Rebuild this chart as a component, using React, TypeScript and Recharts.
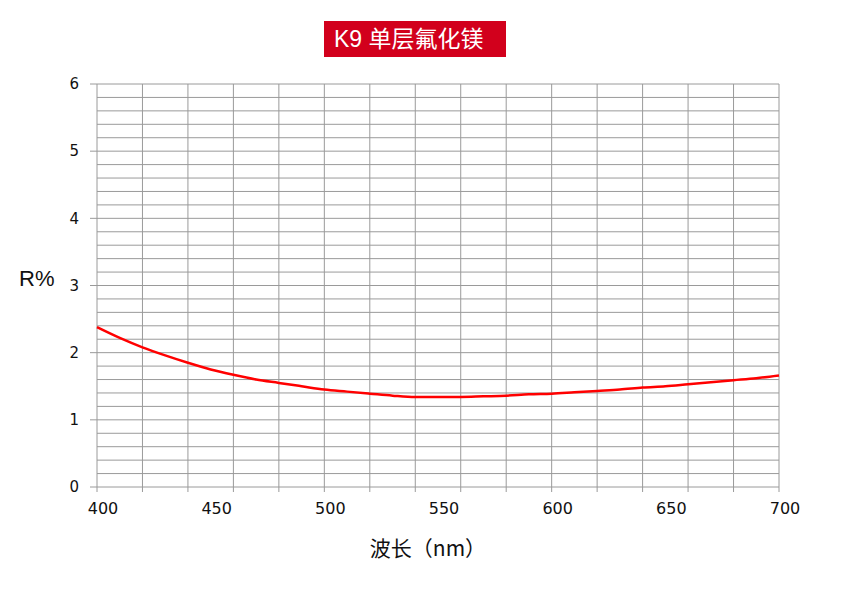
import React from "react";
import { LineChart, Line, XAxis, YAxis, CartesianGrid, ReferenceLine } from "recharts";

const wavelengths = [400, 410, 420, 430, 440, 450, 460, 470, 480, 490, 500, 510, 520, 530, 540, 550, 560, 570, 580, 590, 600, 610, 620, 630, 640, 650, 660, 670, 680, 690, 700];
const reflectance = [2.38, 2.22, 2.08, 1.96, 1.85, 1.75, 1.67, 1.6, 1.55, 1.5, 1.45, 1.42, 1.39, 1.36, 1.34, 1.34, 1.34, 1.35, 1.36, 1.38, 1.39, 1.41, 1.43, 1.45, 1.48, 1.5, 1.53, 1.56, 1.59, 1.62, 1.66];

const xLabelTicks = [400, 450, 500, 550, 600, 650, 700];
const xGridTicks = [400, 420, 440, 460, 480, 500, 520, 540, 560, 580, 600, 620, 640, 660, 680, 700];
const xAllTicks = [400, 420, 440, 450, 460, 480, 500, 520, 540, 550, 560, 580, 600, 620, 640, 650, 660, 680, 700];
const yLabelTicks = [0, 1, 2, 3, 4, 5, 6];
const yGridTicks = [0, 0.2, 0.4, 0.6, 0.8, 1, 1.2, 1.4, 1.6, 1.8, 2, 2.2, 2.4, 2.6, 2.8, 3, 3.2, 3.4, 3.6, 3.8, 4, 4.2, 4.4, 4.6, 4.8, 5, 5.2, 5.4, 5.6, 5.8, 6];

const title = "K9 单层氟化镁";
const xTitle = "波长（nm）";
const yTitle = "R%";

const data = wavelengths.map((w, i) => ({ w, r: reflectance[i] }));

const GRID = "#9a9a9a";

const XTick = (props: any) => {
  const { x, y, payload } = props;
  const v = payload.value;
  const showLabel = xLabelTicks.includes(v);
  const showLine = xGridTicks.includes(v);
  return (
    <g>
      {showLine && <line x1={x} x2={x} y1={y - 16} y2={y - 11} stroke={GRID} strokeWidth={1} />}
      {showLabel && (
        <text x={x + 6} y={y} dy="0.71em" textAnchor="middle" fill="#111" fontSize={16} fontFamily="DejaVu Sans, Verdana, sans-serif">
          {v}
        </text>
      )}
    </g>
  );
};

const YTick = (props: any) => {
  const { x, y, payload } = props;
  const v = payload.value;
  const isMajor = yLabelTicks.some((t) => Math.abs(t - v) < 1e-6);
  if (!isMajor) return <g />;
  return (
    <g>
      <line x1={x + 11} x2={x + 18} y1={y} y2={y} stroke={GRID} strokeWidth={1} />
      <text x={x} y={y} dy="0.35em" textAnchor="end" fill="#111" fontSize={15} fontFamily="DejaVu Sans, Verdana, sans-serif">
        {Math.round(v)}
      </text>
    </g>
  );
};

export default function App() {
  return (
    <div style={{ position: "absolute", left: 0, top: 0, width: 853, height: 603, background: "#fff" }}>
      <div
        style={{
          position: "absolute",
          left: 324,
          top: 21,
          width: 182,
          height: 36,
          background: "#d2001c",
          color: "#fff",
          fontFamily: "'Liberation Sans', 'Noto Sans CJK SC', sans-serif",
          fontSize: 23,
          lineHeight: "36px",
          paddingLeft: 10,
          boxSizing: "border-box",
          whiteSpace: "nowrap",
        }}
      >
        {title}
      </div>
      <div
        style={{
          position: "absolute",
          left: 19,
          top: 264,
          fontFamily: "'Liberation Sans', Arial, sans-serif",
          fontSize: 22,
          lineHeight: "30px",
          color: "#111",
        }}
      >
        {yTitle}
      </div>
      <div
        style={{
          position: "absolute",
          left: 328,
          width: 200,
          top: 532,
          textAlign: "center",
          fontFamily: "'Noto Sans CJK SC', sans-serif",
          fontSize: 21,
          lineHeight: "30px",
          color: "#111",
        }}
      >
        {xTitle}
      </div>
      <div style={{ position: "absolute", left: 0, top: 0 }}>
        <LineChart width={853} height={603} data={data} margin={{ top: 84, right: 74, bottom: 86, left: 67 }}>
          <CartesianGrid vertical={false} stroke={GRID} strokeDasharray="" />
          {xGridTicks.map((t) => (
            <ReferenceLine key={t} x={t} stroke={GRID} strokeWidth={1} ifOverflow="visible" />
          ))}
          <XAxis
            dataKey="w"
            type="number"
            domain={[400, 700]}
            ticks={xAllTicks}
            interval={0}
            height={30}
            tickSize={5}
            tickMargin={11}
            tickLine={false}
            axisLine={false}
            tick={<XTick />}
          />
          <YAxis
            type="number"
            domain={[0, 6]}
            ticks={yGridTicks}
            interval={0}
            width={30}
            tickSize={7}
            tickMargin={11}
            tickLine={false}
            axisLine={false}
            tick={<YTick />}
          />
          <Line type="monotone" dataKey="r" stroke="#ff0000" strokeWidth={2.5} dot={false} isAnimationActive={false} />
        </LineChart>
      </div>
    </div>
  );
}
